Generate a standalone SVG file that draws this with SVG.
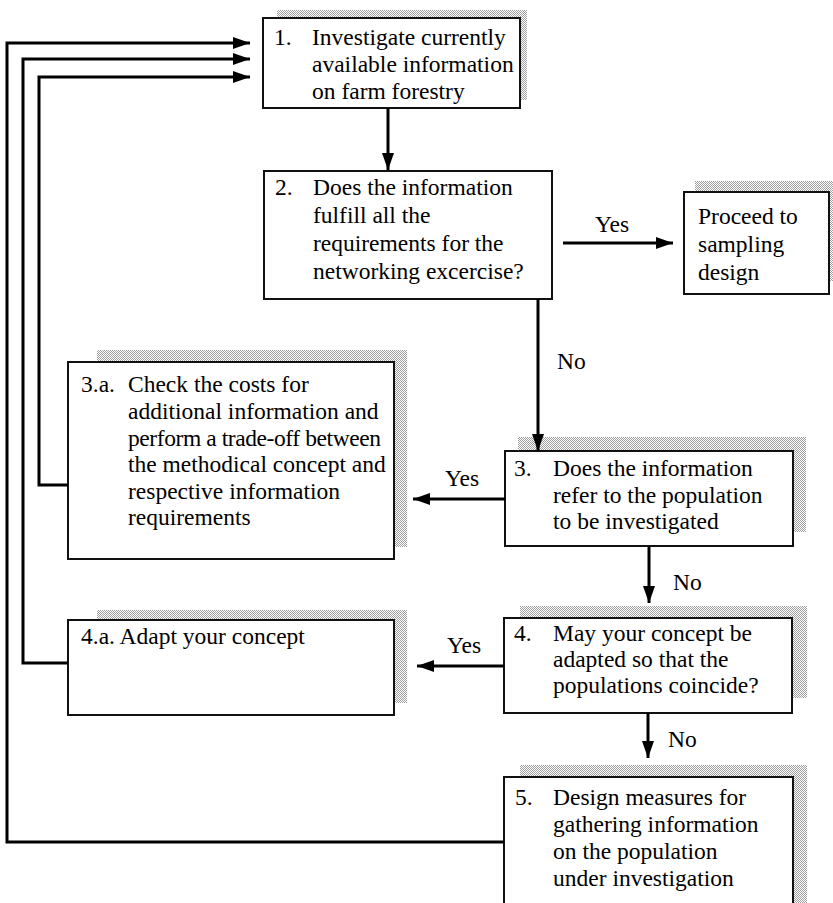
<svg xmlns="http://www.w3.org/2000/svg" width="833" height="903" viewBox="0 0 833 903" font-family="'Liberation Serif', 'Times New Roman', serif" font-size="23.5">
<defs>
<pattern id="dots" width="2" height="2" patternUnits="userSpaceOnUse">
<rect width="2" height="2" fill="#ffffff"/>
<rect width="1" height="1" fill="#a0a0a0"/>
<rect x="1" y="1" width="1" height="1" fill="#a0a0a0"/>
</pattern>
<marker id="ah" markerUnits="userSpaceOnUse" markerWidth="18" markerHeight="12" refX="17" refY="6" orient="auto">
<path d="M0,0 L17,6 L0,12 Z" fill="#000"/>
</marker>
</defs>
<style>
.box{fill:#fff;stroke:#111;stroke-width:2}
.sh{fill:url(#dots)}
text{fill:#000}
.c{fill:none;stroke:#000;stroke-width:3}
</style>
<rect width="833" height="903" fill="#fff"/>

<g id="n1">
<rect class="sh" x="277" y="10" width="250" height="90"/>
<rect class="box" x="263" y="18" width="257" height="90"/>
<text x="274" y="45">1.</text>
<text x="312" y="45">Investigate currently</text>
<text x="312" y="72">available information</text>
<text x="312" y="99">on farm forestry</text>
</g>

<g id="n2">
<rect class="box" x="264" y="171" width="288" height="128"/>
<text x="275" y="195">2.</text>
<text x="313" y="195">Does the information</text>
<text x="313" y="223">fulfill all the</text>
<text x="313" y="251">requirements for the</text>
<text x="313" y="279">networking excercise?</text>
</g>

<g id="proceed">
<rect class="sh" x="695" y="181" width="140" height="100"/>
<rect class="box" x="684" y="192" width="145" height="102"/>
<text x="698" y="224">Proceed to</text>
<text x="698" y="252">sampling</text>
<text x="698" y="280">design</text>
</g>

<g id="n3a">
<rect class="sh" x="97" y="350" width="310" height="197"/>
<rect class="box" x="68" y="362" width="326" height="197"/>
<text x="81" y="392">3.a.</text>
<text x="128" y="392">Check the costs for</text>
<text x="128" y="419">additional information and</text>
<text x="128" y="446" textLength="253" lengthAdjust="spacing">perform a trade-off between</text>
<text x="128" y="472">the methodical concept and</text>
<text x="128" y="499">respective information</text>
<text x="128" y="525">requirements</text>
</g>

<g id="n3">
<rect class="sh" x="518" y="437" width="288" height="95"/>
<rect class="box" x="505" y="451" width="288" height="95"/>
<text x="514" y="476">3.</text>
<text x="553" y="476">Does the information</text>
<text x="553" y="503">refer to the population</text>
<text x="553" y="529">to be investigated</text>
</g>

<g id="n4a">
<rect class="sh" x="97" y="610" width="310" height="93"/>
<rect class="box" x="68" y="620" width="326" height="95"/>
<text x="81" y="644">4.a. Adapt your concept</text>
</g>

<g id="n4">
<rect class="sh" x="520" y="606" width="287" height="92"/>
<rect class="box" x="504" y="618" width="288" height="95"/>
<text x="514" y="641">4.</text>
<text x="553" y="641">May your concept be</text>
<text x="553" y="667">adapted so that the</text>
<text x="553" y="693">populations coincide?</text>
</g>

<g id="n5">
<rect class="sh" x="520" y="765" width="287" height="150"/>
<rect class="box" x="504" y="777" width="289" height="150"/>
<text x="515" y="805">5.</text>
<text x="553" y="805">Design measures for</text>
<text x="553" y="832">gathering information</text>
<text x="553" y="859">on the population</text>
<text x="553" y="886">under investigation</text>
</g>

<g id="connectors">
<polyline class="c" points="504,842 7,842 7,43 250,43" marker-end="url(#ah)"/>
<polyline class="c" points="68,663 23,663 23,59 250,59" marker-end="url(#ah)"/>
<polyline class="c" points="68,485 39,485 39,77 250,77" marker-end="url(#ah)"/>
<line class="c" x1="388" y1="108" x2="388" y2="170" marker-end="url(#ah)"/>
<line class="c" x1="563" y1="243" x2="673" y2="243" marker-end="url(#ah)"/>
<line class="c" x1="538" y1="299" x2="538" y2="451" marker-end="url(#ah)"/>
<line class="c" x1="505" y1="499" x2="413" y2="499" marker-end="url(#ah)"/>
<line class="c" x1="649" y1="546" x2="649" y2="603" marker-end="url(#ah)"/>
<line class="c" x1="504" y1="666" x2="417" y2="666" marker-end="url(#ah)"/>
<line class="c" x1="648" y1="713" x2="648" y2="758" marker-end="url(#ah)"/>
<text x="595" y="232">Yes</text>
<text x="557" y="369">No</text>
<text x="445" y="486">Yes</text>
<text x="673" y="590">No</text>
<text x="447" y="653">Yes</text>
<text x="668" y="747">No</text>
</g>
</svg>
